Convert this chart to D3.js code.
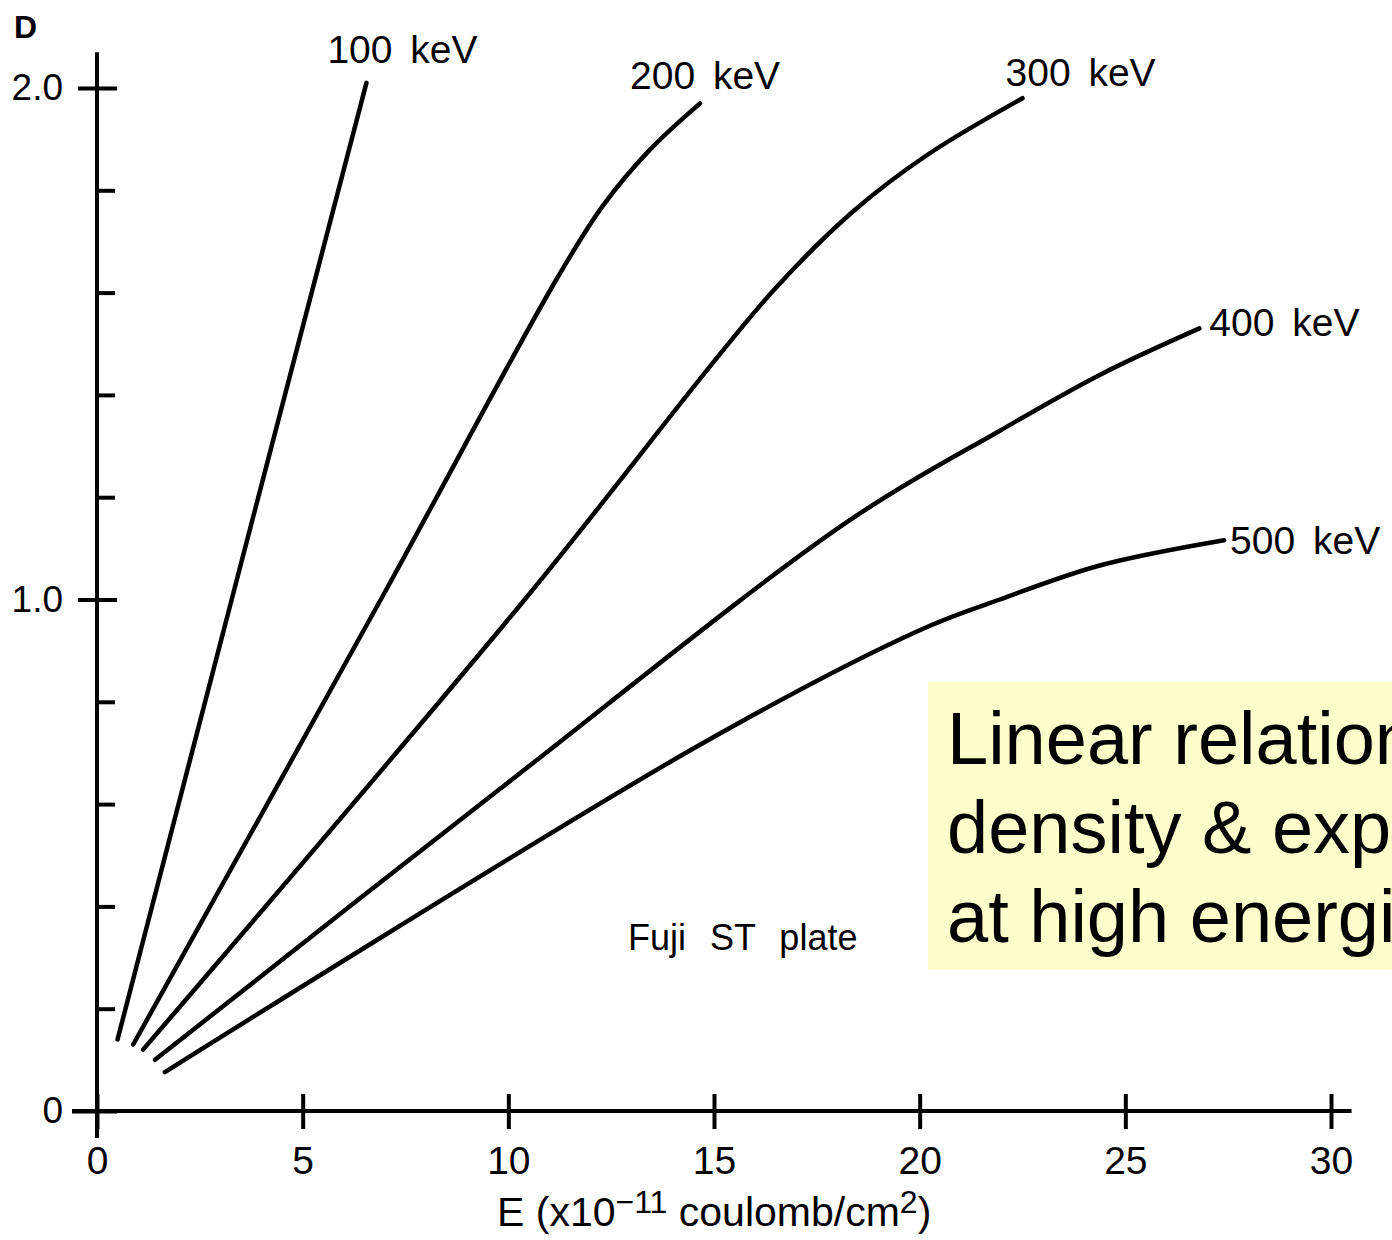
<!DOCTYPE html>
<html>
<head>
<meta charset="utf-8">
<script src="https://cdn.jsdelivr.net/npm/d3@7"></script>
<style>
  body { margin: 0; background: #fff; }
  svg text { font-family: "Liberation Sans", Arial, sans-serif; fill: #000; }
</style>
</head>
<body>
<div id="chart"></div>
<script>
// Exposure E (x10^-11 C/cm^2) vs optical density D
const energies = ["100 keV", "200 keV", "300 keV", "400 keV", "500 keV"];
const curve100 = [[0.5, 0.14], [3.5, 1.07], [6.55, 2.01]];
const curve200 = [[0.88, 0.13], [6.9, 1.0], [11.2, 1.63], [12.3, 1.77], [13.45, 1.88], [14.66, 1.97]];
const curve300 = [[1.12, 0.12], [10.4, 1.0], [16.4, 1.6], [18.4, 1.76], [20.2, 1.87], [22.5, 1.98]];
const curve400 = [[1.41, 0.10], [9.8, 0.63], [18.3, 1.155], [21.95, 1.33], [24.4, 1.44], [26.8, 1.53]];
const curve500 = [[1.65, 0.076], [14.66, 0.716], [20.0, 0.94], [21.95, 1.0], [24.4, 1.067], [27.4, 1.116]];
const curves = [curve100, curve200, curve300, curve400, curve500];

const xTicks = [0, 5, 10, 15, 20, 25, 30];
const yMajorTicks = [0, 1.0, 2.0];
const yMinorTicks = [0.2, 0.4, 0.6, 0.8, 1.2, 1.4, 1.6, 1.8];

const width = 1392, height = 1240;

const svg = d3.select("#chart").append("svg")
    .attr("width", width)
    .attr("height", height);

const x = d3.scaleLinear().domain([0, 30]).range([97, 1331]);
const y = d3.scaleLinear().domain([0, 2]).range([1111, 88]);

// axis lines
svg.append("line")
    .attr("x1", x(0)).attr("x2", x(0))
    .attr("y1", y(2.07)).attr("y2", y(0) + 27)
    .attr("stroke", "#000").attr("stroke-width", 4);
svg.append("line")
    .attr("x1", x(0) - 25).attr("x2", x(30.5))
    .attr("y1", y(0)).attr("y2", y(0))
    .attr("stroke", "#000").attr("stroke-width", 4);

// x axis ticks + labels
const xAxis = svg.append("g")
    .attr("transform", `translate(0,${y(0)})`)
    .call(d3.axisBottom(x).tickValues(xTicks).tickSize(18).tickFormat(d3.format("d")));
xAxis.select(".domain").remove();
xAxis.selectAll(".tick line")
    .attr("y1", -17).attr("y2", 18)
    .attr("stroke", "#000").attr("stroke-width", 4);
xAxis.selectAll(".tick text")
    .attr("y", 63).attr("dy", 0)
    .style("font-size", "39px");

// y axis major ticks (cross the axis)
const yAxis = svg.append("g")
    .attr("transform", `translate(${x(0)},0)`)
    .call(d3.axisLeft(y).tickValues(yMajorTicks).tickSize(20)
        .tickFormat(d => d === 0 ? "0" : d3.format(".1f")(d)));
yAxis.select(".domain").remove();
yAxis.selectAll(".tick line")
    .attr("x1", d => d === 0 ? -25 : -19).attr("x2", 20)
    .attr("stroke", "#000").attr("stroke-width", 4);
yAxis.selectAll(".tick text")
    .attr("x", -34)
    .style("font-size", "37px");

// y minor ticks on the inside
svg.append("g")
    .attr("transform", `translate(${x(0)},0)`)
    .call(d3.axisRight(y).tickValues(yMinorTicks).tickSize(18).tickFormat(""))
    .call(g => g.select(".domain").remove())
    .selectAll(".tick line")
    .attr("stroke", "#000").attr("stroke-width", 4);

// axis titles
svg.append("text")
    .attr("x", 14).attr("y", 38)
    .style("font-size", "32px")
    .style("font-weight", "bold")
    .text("D");

const xTitle = svg.append("text")
    .attr("x", 497).attr("y", 1226)
    .style("font-size", "41px");
xTitle.append("tspan").text("E  (x10");
xTitle.append("tspan").attr("dy", -13).style("font-size", "32px").text("\u221211");
xTitle.append("tspan").attr("dy", 13).text(" coulomb/cm");
xTitle.append("tspan").attr("dy", -13).style("font-size", "32px").text("2");
xTitle.append("tspan").attr("dy", 13).text(")");

// curves
const line = d3.line()
    .x(d => x(d[0]))
    .y(d => y(d[1]))
    .curve(d3.curveCatmullRom.alpha(0.5));

svg.selectAll(".curve")
    .data(curves)
    .enter().append("path")
    .attr("class", "curve")
    .attr("d", line)
    .attr("fill", "none")
    .attr("stroke", "#000")
    .attr("stroke-width", 4.5)
    .attr("stroke-linecap", "round");

// curve labels, offset from each curve's last point
const labelOffsets = [[-39, -20], [-70, -14], [-17, -12], [10, 8], [6, 14]];
svg.selectAll(".clabel")
    .data(curves)
    .enter().append("text")
    .attr("class", "clabel")
    .attr("x", (d, i) => x(d[d.length - 1][0]) + labelOffsets[i][0])
    .attr("y", (d, i) => y(d[d.length - 1][1]) + labelOffsets[i][1])
    .style("font-size", "39px")
    .style("word-spacing", "7px")
    .text((d, i) => energies[i]);

svg.append("text")
    .attr("x", 628).attr("y", 950)
    .style("font-size", "36px")
    .style("word-spacing", "14px")
    .text("Fuji ST plate");

// yellow annotation box
svg.append("rect")
    .attr("x", 928).attr("y", 682)
    .attr("width", 480).attr("height", 288)
    .attr("fill", "#ffffcc");

const note = ["Linear relationship between", "density & exposure", "at high energies"];
svg.append("g").selectAll("text")
    .data(note)
    .enter().append("text")
    .attr("x", 947)
    .attr("y", (d, i) => 764 + i * 89)
    .style("font-size", "74px")
    .text(d => d);
</script>
</body>
</html>
